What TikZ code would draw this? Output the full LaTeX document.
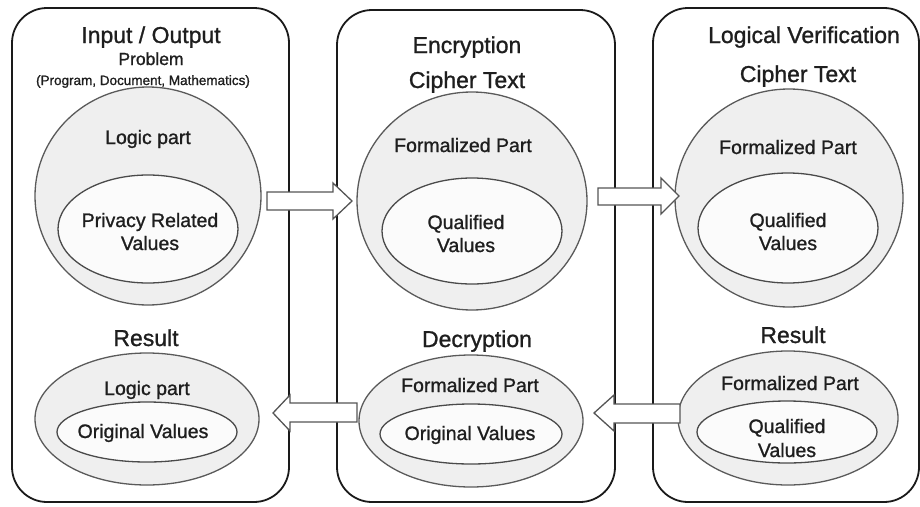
\documentclass[tikz,border=0pt]{standalone}
\usepackage{fontspec}
\setmainfont{Liberation Sans}
\newfontfamily\heavysans[FakeBold=1.1]{Liberation Sans}
\usetikzlibrary{shapes.geometric}

\definecolor{ink}{HTML}{1E1E1E}
\definecolor{framecol}{HTML}{1A1A1A}
\definecolor{outerfill}{HTML}{EFEFEF}
\definecolor{outerline}{HTML}{5A5A5A}
\definecolor{innerfill}{HTML}{FBFBFB}
\definecolor{innerline}{HTML}{4A4A4A}
\definecolor{arrowline}{HTML}{555555}

\tikzset{
  panel/.style={draw=framecol, line width=1.8pt, rounded corners=35pt},
  outer/.style={ellipse, draw=outerline, fill=outerfill, line width=1.3pt, inner sep=0pt},
  inner/.style={ellipse, draw=innerline, fill=innerfill, line width=1.3pt, inner sep=0pt},
  blockarrow/.style={draw=arrowline, fill=white, line width=1.3pt, line join=miter},
  title/.style={anchor=base, inner sep=0pt, text=ink, font=\heavysans\fontsize{23}{26}\selectfont},
  body/.style={anchor=base, inner sep=0pt, text=ink, font=\heavysans\fontsize{19.5}{23}\selectfont},
  sub/.style={anchor=base, inner sep=0pt, text=ink, font=\heavysans\fontsize{17.5}{20}\selectfont},
  note/.style={anchor=base, inner sep=0pt, text=ink, font=\heavysans\fontsize{13.5}{16}\selectfont},
}

\begin{document}
\begin{tikzpicture}[x=1pt, y=-1pt]
\useasboundingbox (0,0) rectangle (920,506);

% three stage panels
\draw[panel] (12,8) rectangle (289,502);
\draw[panel] (337,10) rectangle (615,502);
\draw[panel] (653,8) rectangle (919,502);

% upper ellipses
\node[outer, minimum width=226pt, minimum height=218pt] (o1) at (148,196) {};
\node[inner, minimum width=180pt, minimum height=108pt] (i1) at (148,229) {};
\node[outer, minimum width=230pt, minimum height=218pt] (o2) at (472,201) {};
\node[inner, minimum width=180pt, minimum height=106pt] (i2) at (472,231) {};
\node[outer, minimum width=228pt, minimum height=218pt] (o3) at (789,198) {};
\node[inner, minimum width=180pt, minimum height=110pt] (i3) at (788,228) {};

% lower ellipses
\node[outer, minimum width=224pt, minimum height=132pt] (b1) at (147,419) {};
\node[inner, minimum width=180pt, minimum height=60pt] (c1) at (147,432) {};
\node[outer, minimum width=224pt, minimum height=132pt] (b2) at (471,421) {};
\node[inner, minimum width=182pt, minimum height=60pt] (c2) at (471,434) {};
\node[outer, minimum width=220pt, minimum height=134pt] (b3) at (788,418) {};
\node[inner, minimum width=180pt, minimum height=62pt] (c3) at (787,432) {};

% block arrows between the stages
\draw[blockarrow] (267,192) -- (333,192) -- (333,183) -- (352,201) -- (333,219) -- (333,210) -- (267,210) -- cycle;
\draw[blockarrow] (598,188) -- (661,188) -- (661,178) -- (679,196) -- (661,214) -- (661,205) -- (598,205) -- cycle;
\draw[blockarrow] (357,403) -- (290,403) -- (290,395) -- (273,413) -- (290,431) -- (290,422) -- (357,422) -- cycle;
\draw[blockarrow] (680,404) -- (614,404) -- (614,395) -- (594,413) -- (614,431) -- (614,423) -- (680,423) -- cycle;

% panel 1 texts
\node[title] (t1) at (151,43) {Input / Output};
\node[sub] (t1b) at (151,65) {Problem};
\node[note] (t1c) at (143,85) {(Program, Document, Mathematics)};
\node[body] (l1) at (148,144) {Logic part};
\node[body] (p1a) at (150,227) {Privacy Related};
\node[body] (p1b) at (150,250) {Values};
\node[title] (r1) at (146,346) {Result};
\node[body] (l1b) at (147,395) {Logic part};
\node[body] (v1) at (143,438) {Original Values};

% panel 2 texts
\node[title] (t2) at (467,53) {Encryption};
\node[title] (t2b) at (467,88) {Cipher Text};
\node[body] (f2) at (463,152) {Formalized Part};
\node[body] (q2a) at (466,229) {Qualified};
\node[body] (q2b) at (466,252) {Values};
\node[title] (d2) at (477,347) {Decryption};
\node[body] (f2b) at (470,392) {Formalized Part};
\node[body] (v2) at (470,440) {Original Values};

% panel 3 texts
\node[title] (t3) at (804,43) {Logical Verification};
\node[title] (t3b) at (798,82) {Cipher Text};
\node[body] (f3) at (788,154) {Formalized Part};
\node[body] (q3a) at (788,227) {Qualified};
\node[body] (q3b) at (788,250) {Values};
\node[title] (r3) at (793,343) {Result};
\node[body] (f3b) at (790,390) {Formalized Part};
\node[body] (q3c) at (787,433) {Qualified};
\node[body] (q3d) at (787,457) {Values};
\end{tikzpicture}
\end{document}
